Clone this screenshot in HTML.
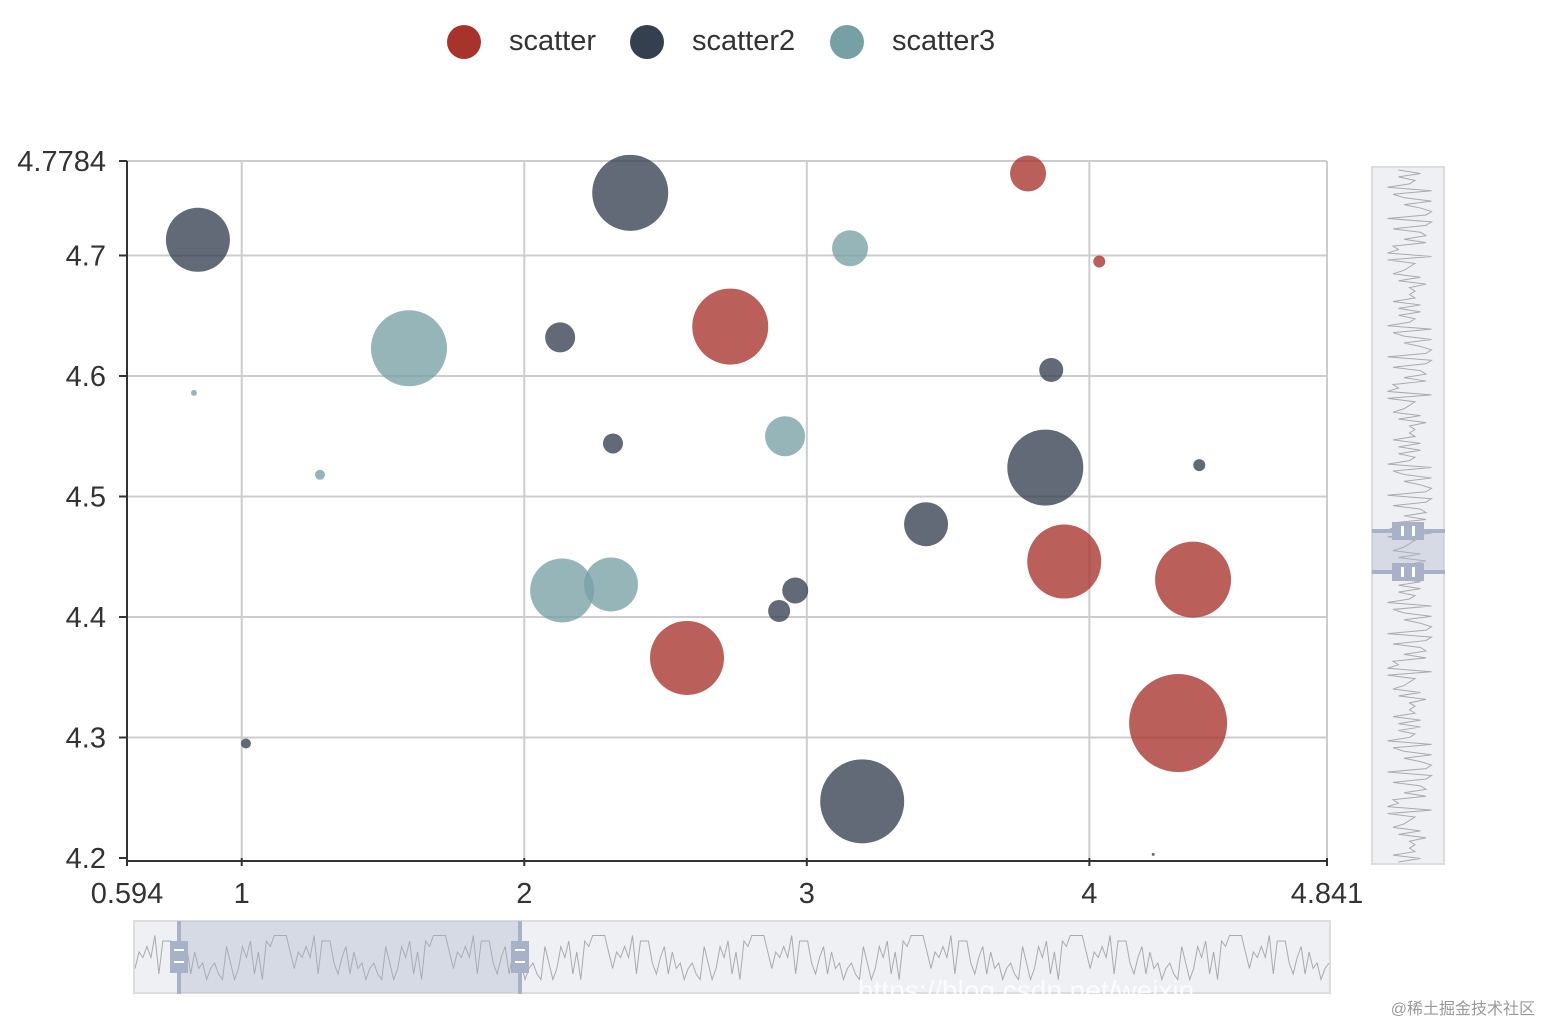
<!DOCTYPE html>
<html><head><meta charset="utf-8"><style>
html,body{margin:0;padding:0;background:#fff;}
svg{display:block;font-family:"Liberation Sans","Noto Sans CJK SC",sans-serif;}
</style></head><body>
<svg id="chart" width="1541" height="1025">
<g id="grid"></g>
<g id="bubbles"></g>
<g id="axes"></g>
<g id="legend"></g>
<g id="zoomx"></g>
<g id="zoomy"></g>
<text x="858" y="1000" font-size="28" fill="#fff" opacity="0.85">https://blog.csdn.net/weixin</text>
<text x="1535" y="1014" font-size="16" fill="#999" text-anchor="end">@稀土掘金技术社区</text>
</svg>
<script>
const xTicks=[0.594,1,2,3,4,4.841];
const xTickLabels=["0.594","1","2","3","4","4.841"];
const yTicks=[4.2,4.3,4.4,4.5,4.6,4.7,4.7784];
const yTickLabels=["4.2","4.3","4.4","4.5","4.6","4.7","4.7784"];
const seriesNames=["scatter","scatter2","scatter3"];
const seriesColors=["#a8322c","#34404f","#77a0a5"];
const s1X=[3.783,4.035,2.729,2.576,3.911,4.367,4.314];
const s1Y=[4.768,4.695,4.641,4.366,4.446,4.431,4.312];
const s1R=[18,6,38,37,37,38,49];
const s2X=[0.845,2.375,2.127,2.314,3.865,3.844,4.389,3.422,2.959,2.902,3.196,1.015,4.226];
const s2Y=[4.713,4.752,4.632,4.544,4.605,4.524,4.526,4.477,4.422,4.405,4.247,4.295,4.203];
const s2R=[32,38,15,10,12,38,6,22,13,11,42,5,1.5];
const s3X=[1.592,3.153,2.923,2.134,2.307,0.831,1.277];
const s3Y=[4.623,4.706,4.550,4.422,4.427,4.586,4.518];
const s3R=[38,18,20,32,27,3,5];
const shadowVals=[3,7,2,8,5,9,1,6,4,8,2,7,9,3,5,1,8,6,2,9,4,7,3,8,1,6,9,2,5,7,4,8,3,6,1,9,5,2,7,4];

const NS="http://www.w3.org/2000/svg";
function mk(tag,attrs,parent){const e=document.createElementNS(NS,tag);for(const k in attrs)e.setAttribute(k,attrs[k]);parent.appendChild(e);return e;}
const L=127,R=1327,T=161,B=858,xmin=0.594,xmax=4.841,ymin=4.2,ymax=4.7784;
const sx=v=>L+(v-xmin)/(xmax-xmin)*(R-L);
const sy=v=>B-(v-ymin)/(ymax-ymin)*(B-T);
const grid=document.getElementById('grid'),axes=document.getElementById('axes');
xTicks.forEach((v,i)=>{
 const x=sx(v);
 if(i>0){const g=mk('line',{x1:x,x2:x,y1:T,y2:B,stroke:'#ccc','stroke-width':2},grid);
 }
 mk('line',{x1:x,x2:x,y1:B,y2:B+8,stroke:'#333','stroke-width':2},axes);
 const t=mk('text',{x:x,y:B+45,'font-size':29,fill:'#333','text-anchor':'middle'},axes);
 t.textContent=xTickLabels[i];
 
});
yTicks.forEach((v,i)=>{
 const y=sy(v);
 if(i>0){const g=mk('line',{x1:L,x2:R,y1:y,y2:y,stroke:'#ccc','stroke-width':2},grid);
 }
 mk('line',{x1:L-8,x2:L,y1:y,y2:y,stroke:'#333','stroke-width':2},axes);
 const t=mk('text',{x:L-21,y:y+10,'font-size':29,fill:'#333','text-anchor':'end'},axes);
 t.textContent=yTickLabels[i];
 
});
const xa=mk('line',{x1:L,x2:R,y1:B+3,y2:B+3,stroke:'#333','stroke-width':2},axes);

const ya=mk('line',{x1:L,x2:L,y1:T,y2:B+3,stroke:'#333','stroke-width':2},axes);


const bub=document.getElementById('bubbles');
[[s1X,s1Y,s1R],[s2X,s2Y,s2R],[s3X,s3Y,s3R]].forEach((s,si)=>{
 s[0].forEach((xv,i)=>{
  const c=mk('circle',{cx:sx(xv),cy:sy(s[1][i]),r:s[2][i],fill:seriesColors[si],'fill-opacity':si==2?0.78:0.78},bub);
  
  
 });
});

const leg=document.getElementById('legend');
const legX=[464,647,847];
seriesNames.forEach((n,i)=>{
 const g=mk('g',{},leg);
 
 
 mk('circle',{cx:legX[i],cy:42,r:17,fill:seriesColors[i]},g);
 const t=mk('text',{x:legX[i]+45,y:50,'font-size':29,fill:'#333'},g);
 t.textContent=n;
});

const zx=document.getElementById('zoomx');
mk('rect',{x:134,y:921,width:1196,height:72,fill:'#eef0f3',stroke:'#ddd','stroke-width':2},zx);
let pts=[],pts2=[];
for(let i=0;i<=300;i++){const v=shadowVals[(i*7)%shadowVals.length];pts.push((135+i*1194/300)+','+(985-v*5.5));}
mk('polyline',{points:pts.join(' '),fill:'none',stroke:'#aaa','stroke-width':1},zx);
const selx=mk('rect',{x:179,y:921,width:341,height:72,fill:'#a7b1c8','fill-opacity':0.35},zx);

[179,520].forEach(x=>{
 const h=mk('g',{},zx);
 
 mk('rect',{x:x-2,y:921,width:4,height:73,fill:'#a7b1c8'},h);
 mk('rect',{x:x-9,y:941,width:18,height:32,fill:'#a7b1c8'},h);
 mk('rect',{x:x-5,y:949,width:10,height:2,fill:'#fff'},h);
 mk('rect',{x:x-5,y:961,width:10,height:2,fill:'#fff'},h);
});
const zy=document.getElementById('zoomy');
mk('rect',{x:1372,y:167,width:72,height:697,fill:'#eef0f3',stroke:'#ddd','stroke-width':2},zy);
for(let i=0;i<=200;i++){const v=shadowVals[(i*11)%shadowVals.length];pts2.push((1382+v*5.5)+','+(170+i*692/200));}
mk('polyline',{points:pts2.join(' '),fill:'none',stroke:'#aaa','stroke-width':1},zy);
const sely=mk('rect',{x:1372,y:531,width:72,height:41,fill:'#a7b1c8','fill-opacity':0.35},zy);

[531,572].forEach(y=>{
 const h=mk('g',{},zy);
 
 mk('rect',{x:1372,y:y-2,width:73,height:4,fill:'#a7b1c8'},h);
 mk('rect',{x:1392,y:y-9,width:32,height:18,fill:'#a7b1c8'},h);
 mk('rect',{x:1401,y:y-5,width:3,height:10,fill:'#fff'},h);
 mk('rect',{x:1412,y:y-5,width:3,height:10,fill:'#fff'},h);
});
</script>
</body></html>
